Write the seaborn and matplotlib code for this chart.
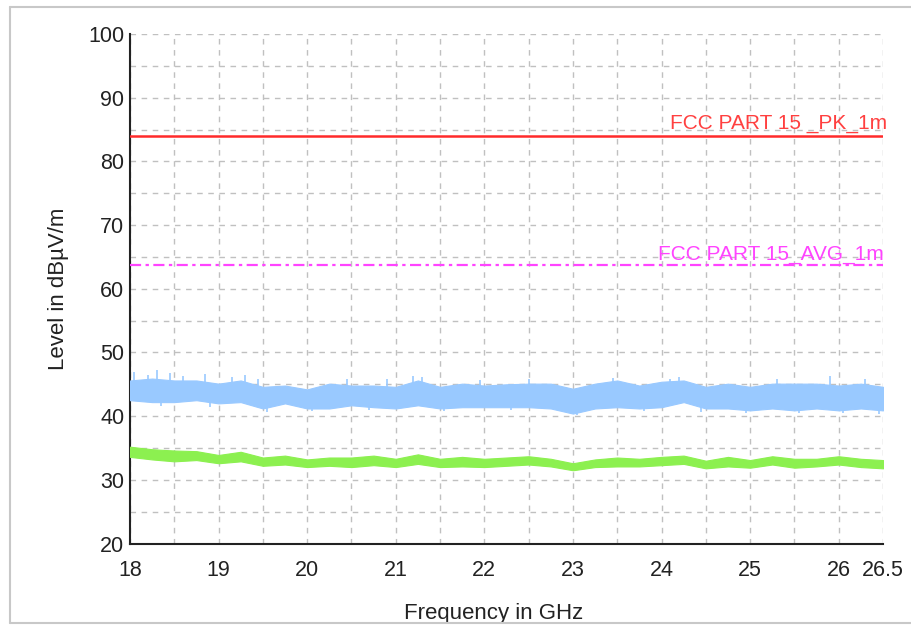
import numpy as np
import pandas as pd
import seaborn as sns
import matplotlib.pyplot as plt
from matplotlib.lines import Line2D

freq = [18.0, 18.25, 18.5, 18.75, 19.0, 19.25, 19.5, 19.75, 20.0, 20.25, 20.5, 20.75,
        21.0, 21.25, 21.5, 21.75, 22.0, 22.25, 22.5, 22.75, 23.0, 23.25, 23.5, 23.75,
        24.0, 24.25, 24.5, 24.75, 25.0, 25.25, 25.5, 25.75, 26.0, 26.25, 26.5]

# Peak trace (blue) - upper and lower edge of the noise band
peak_top = [45.6, 45.9, 45.6, 45.6, 45.1, 45.6, 44.6, 44.8, 44.2, 45.1, 44.8, 44.8,
            44.6, 45.6, 44.6, 45.1, 44.8, 45.0, 45.1, 45.1, 44.3, 45.1, 45.6, 44.8,
            45.4, 45.6, 44.6, 45.1, 44.6, 45.1, 45.1, 45.1, 44.8, 45.1, 44.6]
peak_bot = [42.5, 42.2, 42.2, 42.5, 42.0, 42.2, 41.2, 42.0, 41.2, 41.2, 41.7, 41.4,
            41.2, 41.7, 41.2, 41.4, 41.4, 41.4, 41.4, 41.2, 40.4, 41.2, 41.4, 41.2,
            41.4, 42.2, 41.2, 41.2, 40.9, 41.2, 40.9, 41.2, 40.9, 41.2, 40.9]
# isolated spikes sticking out above / below the blue band
spike_f = [18.05, 18.2, 18.3, 18.45, 18.6, 18.85, 19.15, 19.3, 19.45, 20.45, 20.9,
           21.2, 21.3, 21.95, 22.5, 23.45, 24.1, 24.2, 25.3, 25.9, 26.3]
spike_v = [46.9, 46.4, 47.3, 46.8, 46.3, 46.6, 46.2, 46.4, 45.9, 45.9, 45.8,
           46.3, 46.1, 45.7, 45.8, 46.0, 45.9, 46.2, 45.8, 46.3, 45.8]
dip_f = [18.35, 18.9, 19.55, 20.05, 20.7, 21.55, 22.3, 22.95, 23.05, 23.8, 24.45,
         24.95, 25.55, 26.05, 26.45]
dip_v = [41.6, 41.5, 40.7, 40.8, 41.0, 40.8, 40.9, 40.6, 40.1, 40.8, 40.7,
         40.5, 40.5, 40.5, 40.4]

# Average trace (green)
avg_top = [35.2, 34.8, 34.6, 34.5, 33.9, 34.4, 33.5, 33.8, 33.2, 33.5, 33.5, 33.8,
           33.3, 34.0, 33.3, 33.6, 33.3, 33.5, 33.7, 33.3, 32.6, 33.2, 33.5, 33.3,
           33.6, 33.8, 33.0, 33.6, 33.1, 33.7, 33.3, 33.3, 33.7, 33.3, 33.1]
avg_bot = [33.6, 33.2, 32.9, 33.1, 32.6, 32.9, 32.2, 32.4, 32.0, 32.2, 32.0, 32.3,
           32.0, 32.5, 32.0, 32.1, 32.0, 32.2, 32.4, 32.1, 31.5, 32.0, 32.1, 32.1,
           32.3, 32.5, 31.8, 32.1, 31.9, 32.4, 31.9, 32.1, 32.4, 32.0, 31.8]

# Limit lines
limit_names = ["FCC PART 15 _PK_1m", "FCC PART 15_AVG_1m"]
limit_values = [84.0, 63.7]

x_labels = ["18", "19", "20", "21", "22", "23", "24", "25", "26", "26.5"]
y_labels = ["20", "30", "40", "50", "60", "70", "80", "90", "100"]

sns.set_style("white")
plt.rcParams["font.family"] = ["Liberation Sans", "DejaVu Sans"]

fig = plt.figure(figsize=(9.12, 6.25), dpi=100)
ax = fig.add_axes([0.1425, 0.1304, 0.8257, 0.8152])

# measured traces
blue = "#99c9ff"
green = "#8cf050"
ax.fill_between(freq, peak_bot, peak_top, color=blue, lw=0.8, edgecolor=blue, zorder=3)
ax.vlines(spike_f, 44.0, spike_v, color=blue, lw=1.2, zorder=3)
ax.vlines(dip_f, dip_v, 43.0, color=blue, lw=1.2, zorder=3)
ax.fill_between(freq, avg_bot, avg_top, color=green, lw=0.8, edgecolor=green, zorder=3)

# limit lines
lim = pd.DataFrame({
    "f": [freq[0], freq[-1]] * 2,
    "level": [limit_values[0]] * 2 + [limit_values[1]] * 2,
    "name": [limit_names[0]] * 2 + [limit_names[1]] * 2,
})
sns.lineplot(data=lim[lim.name == limit_names[0]], x="f", y="level", color="#ff2a2a",
             lw=1.8, ax=ax, zorder=4)
sns.lineplot(data=lim[lim.name == limit_names[1]], x="f", y="level", color="#ff44ff",
             lw=1.6, ax=ax, zorder=4)
ax.lines[-1].set_dashes((5, 2, 1.5, 2))

ax.text(26.55, limit_values[0] + 1.1, limit_names[0], color="#ff4040", fontsize=15,
        ha="right", va="baseline")
ax.text(26.51, limit_values[1] + 0.9, limit_names[1], color="#ff44ff", fontsize=15,
        ha="right", va="baseline")

ax.set_xlim(18, 26.5)
ax.set_ylim(20, 100)

xt = np.arange(18, 26.51, 0.5)
ax.set_xticks(xt)
ax.set_xticklabels([l if l in x_labels else "" for l in [("%g" % v) for v in xt]])
yt = np.arange(20, 100.1, 5)
ax.set_yticks(yt)
ax.set_yticklabels([l if l in y_labels else "" for l in [("%g" % v) for v in yt]])

ax.tick_params(axis="both", direction="inout", length=8, width=1.3, color="#222222",
               labelsize=15.5, labelcolor="#222222")
ax.tick_params(axis="x", pad=8)
ax.tick_params(axis="y", pad=0)

ax.grid(True, color="#c0c0c0", lw=1.0, ls=(0, (4, 4)))
for s in ["top", "right"]:
    ax.spines[s].set_visible(False)
for s in ["left", "bottom"]:
    ax.spines[s].set_color("#222222")
    ax.spines[s].set_linewidth(1.5)

ax.set_xlabel("Frequency in GHz", fontsize=16, color="#222222")
ax.set_ylabel("Level in dBµV/m", fontsize=16, color="#222222")
ax.xaxis.set_label_coords(0.483, -0.117)
ax.yaxis.set_label_coords(-0.081, 0.5)

# frame around the whole picture
for xs, ys in [([0.011, 0.011], [0.003, 0.989]),
               ([0.011, 1.0], [0.989, 0.989]),
               ([0.011, 1.0], [0.003, 0.003])]:
    fig.add_artist(Line2D(xs, ys, color="#c8c8c8", lw=1.5))

fig.savefig("out.png", dpi=100)
